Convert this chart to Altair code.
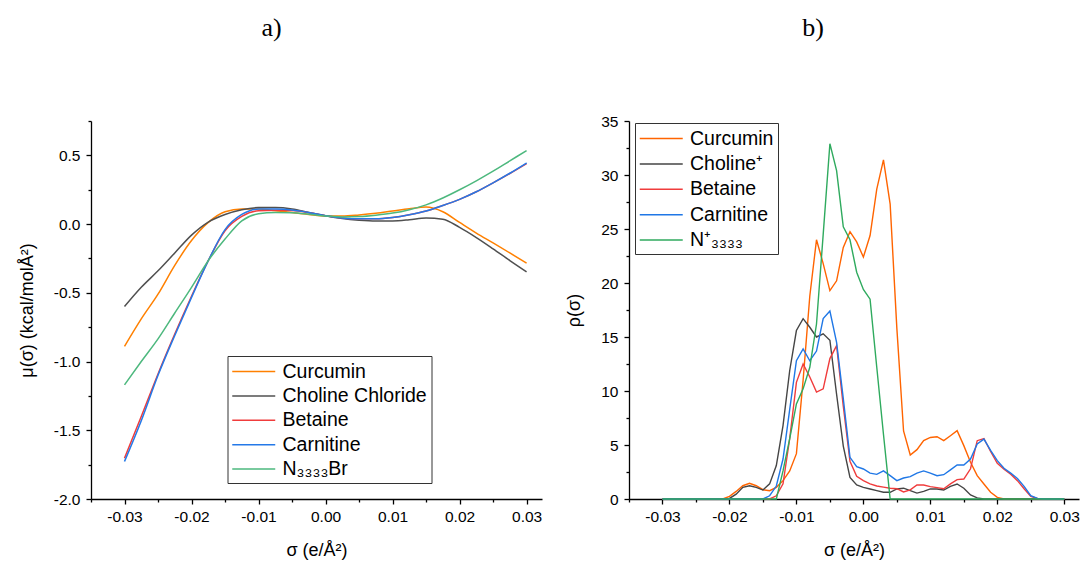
import altair as alt
import pandas as pd

# ---------------- panel a) : sigma potential ----------------
sigma_mu = [-0.03, -0.0275, -0.025, -0.0225, -0.02, -0.0175, -0.015, -0.0125, -0.01,
            -0.0075, -0.005, -0.0025, 0.0, 0.0025, 0.005, 0.0075, 0.01, 0.0125,
            0.015, 0.0175, 0.02, 0.0225, 0.025, 0.0275, 0.03]

mu_curcumin = [-0.89, -0.69, -0.51, -0.30, -0.12, 0.012, 0.09, 0.109, 0.109,
               0.097, 0.085, 0.07, 0.058, 0.058, 0.066, 0.078, 0.095, 0.112,
               0.124, 0.09, 0.012, -0.065, -0.137, -0.21, -0.284]
mu_choline = [-0.60, -0.46, -0.34, -0.21, -0.08, 0.015, 0.07, 0.105, 0.12,
              0.12, 0.11, 0.085, 0.06, 0.04, 0.028, 0.022, 0.023, 0.032,
              0.045, 0.036, -0.024, -0.098, -0.18, -0.265, -0.347]
mu_betaine = [-1.703, -1.40, -1.09, -0.80, -0.525, -0.266, -0.048, 0.056, 0.097,
              0.10, 0.098, 0.083, 0.06, 0.045, 0.038, 0.038, 0.048, 0.068,
              0.095, 0.135, 0.18, 0.235, 0.30, 0.368, 0.44]
mu_carnitine = [-1.727, -1.43, -1.10, -0.81, -0.533, -0.266, -0.04, 0.07, 0.109,
                0.109, 0.103, 0.085, 0.06, 0.045, 0.038, 0.038, 0.048, 0.068,
                0.095, 0.135, 0.18, 0.235, 0.30, 0.37, 0.445]
mu_n3333br = [-1.17, -1.0, -0.835, -0.647, -0.46, -0.266, -0.109, 0.024, 0.075,
              0.085, 0.083, 0.072, 0.058, 0.052, 0.055, 0.065, 0.08, 0.105,
              0.14, 0.19, 0.25, 0.315, 0.385, 0.46, 0.535]

mu_names = ["Curcumin", "Choline Chloride", "Betaine", "Carnitine", "N₃₃₃₃Br"]
mu_colors = ["#FF8000", "#505050", "#F03C3C", "#2479E8", "#4DB87E"]
mu_series = [mu_curcumin, mu_choline, mu_betaine, mu_carnitine, mu_n3333br]

# ---------------- panel b) : sigma profile ----------------
sigma_p = [round(-0.03 + 0.001 * i, 3) for i in range(61)]

p_curcumin = [0] * 10 + [0.25, 0.7, 1.23, 1.45, 1.23, 0.86, 0.77, 1.08, 1.7, 2.6,
                         4.2, 11.0, 18.8, 24.0, 21.8, 19.3, 20.2, 23.3, 24.75, 23.8,
                         22.4, 24.4, 28.7, 31.4, 27.3, 15.8, 6.3, 4.07, 4.57, 5.4,
                         5.7, 5.77, 5.4, 5.86, 6.33, 4.94, 3.4, 2.16, 1.39, 0.62,
                         0.15] + [0] * 10
p_choline = [0] * 10 + [0.05, 0.45, 1.08, 1.23, 1.08, 0.83, 1.4, 3.1, 6.8, 11.9,
                        15.6, 16.7, 15.9, 15.0, 15.3, 14.7, 9.7, 4.9, 2.0, 1.3,
                        1.08, 0.93, 0.77, 0.62, 0.62, 0.93, 1.0, 0.77, 0.55, 0.7,
                        0.93, 0.93, 0.83, 1.17, 1.39, 1.0, 0.37, 0.1] + [0] * 13
p_betaine = [0] * 17 + [0.3, 1.4, 5.6, 10.8, 12.5, 11.3, 9.9, 10.2, 13.0, 14.2,
                        8.6, 3.5, 2.1, 1.7, 1.4, 1.2, 1.1, 1.0, 0.95, 0.65,
                        0.85, 1.3, 1.3, 1.15, 1.05, 0.95, 1.4, 1.8, 1.85, 2.8,
                        5.4, 5.6, 4.4, 3.3, 2.75, 2.3, 1.7, 0.95, 0.25, 0.05] + [0] * 4
p_carnitine = [0] * 16 + [0.3, 1.2, 3.7, 8.3, 12.8, 13.9, 12.8, 13.7, 16.7, 17.4,
                          14.5, 9.3, 3.86, 3.0, 2.78, 2.4, 2.28, 2.6, 2.16, 1.7,
                          1.94, 2.07, 2.4, 2.6, 2.4, 2.16, 2.25, 2.7, 3.15, 3.15,
                          3.7, 5.1, 5.55, 4.5, 3.55, 2.84, 2.4, 1.9, 1.17, 0.3,
                          0.06] + [0] * 4
p_n3333 = [0] * 18 + [2.6, 5.6, 8.8, 10.2, 12.2, 16.2, 24.5, 32.9, 30.4, 25.2,
                      24.0, 21.0, 19.4, 18.5, 12.2, 6.0, 0] + [0] * 26

p_names = ["Curcumin", "Choline⁺", "Betaine", "Carnitine", "N⁺₃₃₃₃"]
p_colors = ["#FF6400", "#454545", "#F03C3C", "#1F77E6", "#2FAA5E"]
p_series = [p_curcumin, p_choline, p_betaine, p_carnitine, p_n3333]


def long_frame(xs, names, series):
    rows = []
    for k, (name, vals) in enumerate(zip(names, series)):
        for s, v in zip(xs, vals):
            rows.append({"sigma": s, "value": v, "series": name, "k": k})
    return pd.DataFrame(rows)


df_mu = long_frame(sigma_mu, mu_names, mu_series)
df_p = long_frame(sigma_p, p_names, p_series)

FONT = "Liberation Sans"
x_ticks = [round(-0.035 + 0.005 * i, 3) for i in range(15)]
major_x = "abs(datum.value*100 - round(datum.value*100)) < 0.001"


def x_axis():
    return alt.Axis(
        values=x_ticks,
        labelExpr=f"{major_x} ? replace(format(datum.value, '.2f'), '\u2212', '-') : ''",
        tickSize={"condition": {"test": major_x, "value": 5}, "value": 3},
        title="σ (e/Å²)", labelFlush=False, labelOverlap=False,
        labelPadding=5, titlePadding=17,
    )


mu_y_ticks = [round(-2.0 + 0.25 * i, 2) for i in range(12)]
major_mu = "abs(datum.value*2 - round(datum.value*2)) < 0.001"
p_y_ticks = [2.5 * i for i in range(15)]
major_p = "abs(datum.value % 5) < 0.001"

# line-shaped legend symbol: spans from -0.5 to 1.5 symbol widths
legend_common = dict(
    title=None, orient="none", symbolType="M-1,0H3", symbolSize=462,
    symbolStrokeWidth=1.5, labelFont=FONT, labelFontSize=19.5, labelColor="black",
    strokeColor="#333333", fillColor="white", padding=4, labelOffset=28,
)

left = alt.Chart(df_mu).mark_line(strokeWidth=1.5, interpolate="monotone").encode(
    x=alt.X("sigma:Q", scale=alt.Scale(domain=[-0.035, 0.0323], nice=False, zero=False),
            axis=x_axis()),
    y=alt.Y("value:Q", scale=alt.Scale(domain=[-2.0, 0.75], nice=False, zero=False),
            axis=alt.Axis(
                values=mu_y_ticks,
                labelExpr=f"{major_mu} ? replace(format(datum.value, '.1f'), '\u2212', '-') : ''",
                tickSize={"condition": {"test": major_mu, "value": 5}, "value": 3},
                title="μ(σ) (kcal/molÅ²)", labelOverlap=False, labelFlush=False,
                labelPadding=6, titlePadding=17)),
    color=alt.Color("series:N", scale=alt.Scale(domain=mu_names, range=mu_colors),
                    legend=alt.Legend(legendX=136.5, legendY=235, rowPadding=3.4,
                                      **legend_common)),
    order=alt.Order("k:Q"),
).properties(
    width=451, height=378,
    title=alt.TitleParams("a)", font="Liberation Serif", fontSize=26, fontWeight="normal",
                          color="black", anchor="middle", offset=73, dx=-45),
)

right = alt.Chart(df_p).mark_line(strokeWidth=1.4).encode(
    x=alt.X("sigma:Q", scale=alt.Scale(domain=[-0.035, 0.0322], nice=False, zero=False),
            axis=x_axis()),
    y=alt.Y("value:Q", scale=alt.Scale(domain=[0, 35], nice=False, zero=False),
            axis=alt.Axis(
                values=p_y_ticks,
                labelExpr=f"{major_p} ? format(datum.value, 'd') : ''",
                tickSize={"condition": {"test": major_p, "value": 5}, "value": 3},
                title="ρ(σ)", labelOverlap=False, labelFlush=False,
                labelPadding=6, titlePadding=17)),
    color=alt.Color("series:N", scale=alt.Scale(domain=p_names, range=p_colors),
                    legend=alt.Legend(legendX=6, legendY=2, rowPadding=4.4,
                                      **legend_common)),
    order=alt.Order("k:Q"),
).properties(
    width=450, height=378,
    title=alt.TitleParams("b)", font="Liberation Serif", fontSize=26, fontWeight="normal",
                          color="black", anchor="middle", offset=73, dx=-41),
)

chart = alt.hconcat(left, right, spacing=87, bounds="flush").resolve_scale(
    color="independent", x="independent", y="independent"
).properties(
    padding={"left": 18, "top": 15, "right": 0, "bottom": 0},
    background="white",
).configure_axis(
    grid=False, domainColor="black", domainWidth=1.3, tickColor="black", tickWidth=1.3,
    labelFont=FONT, labelFontSize=15.5, labelColor="black",
    titleFont=FONT, titleFontSize=18, titleFontWeight="normal", titleColor="black",
).configure_view(stroke=None)

chart.save("out.html", embed_options={"renderer": "svg", "actions": False})
